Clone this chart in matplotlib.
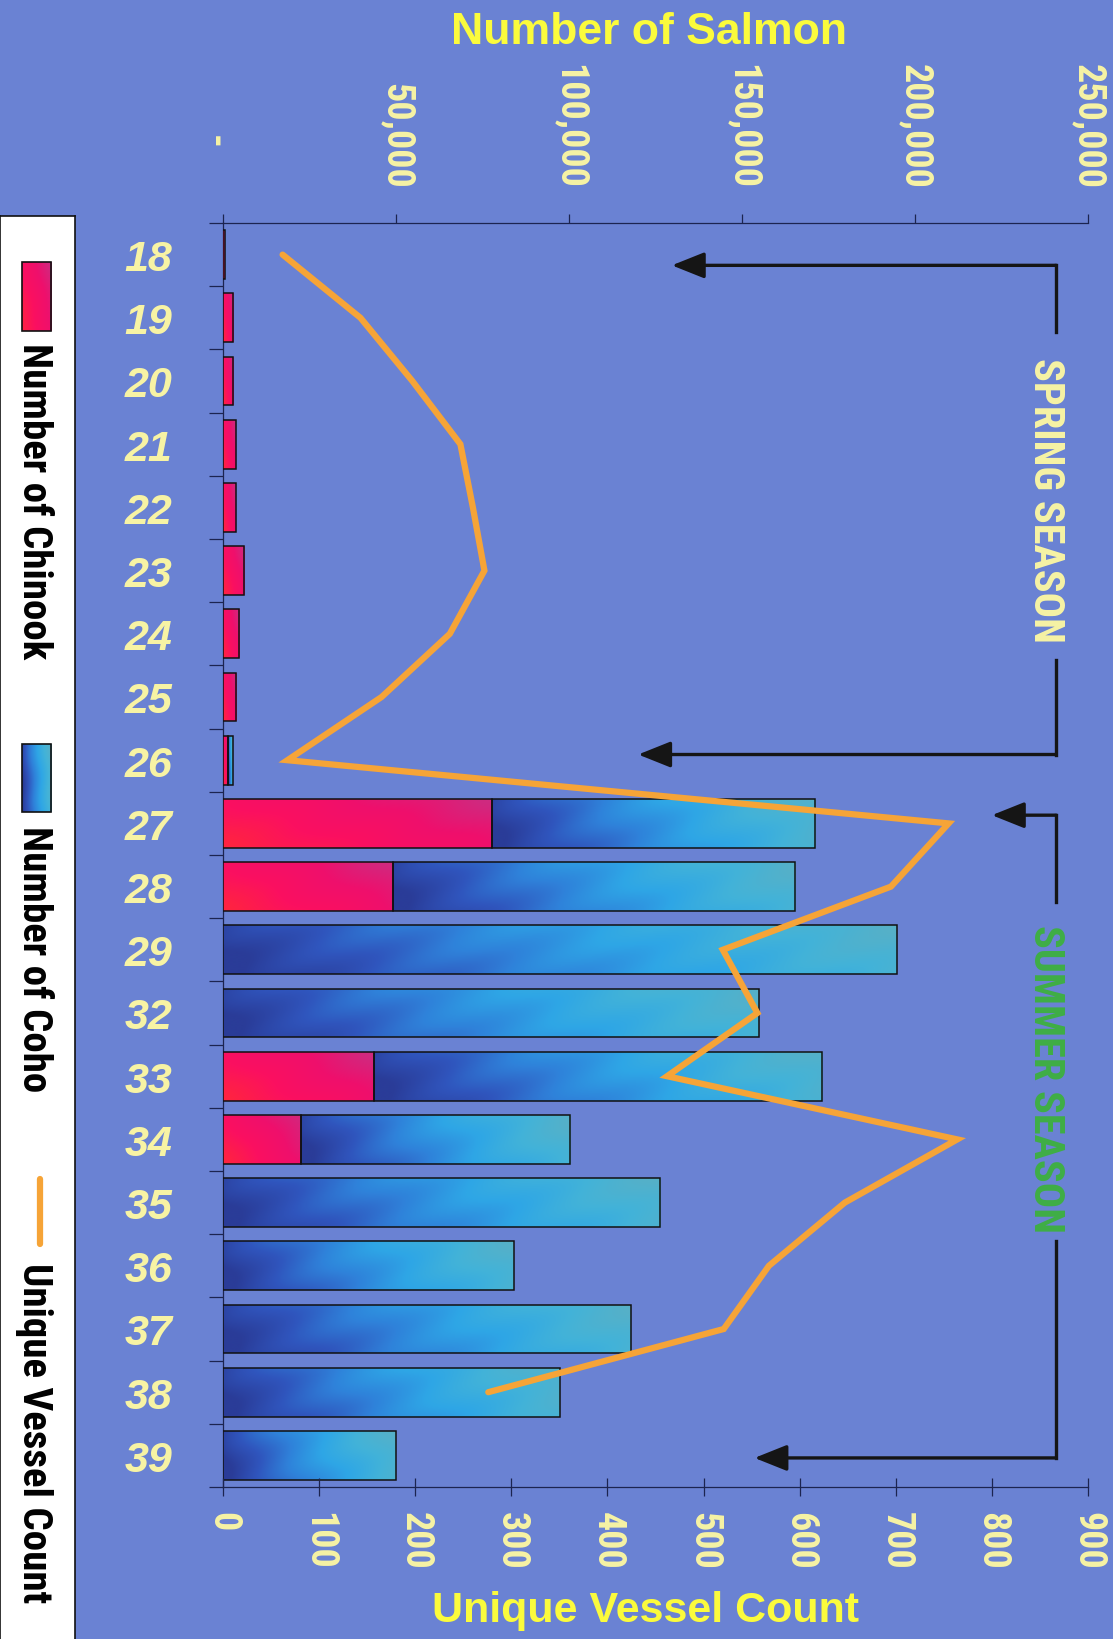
import numpy as np
import matplotlib
matplotlib.use("Agg")
import matplotlib.pyplot as plt
from matplotlib import font_manager
from matplotlib.colors import LinearSegmentedColormap
from matplotlib.patches import Rectangle

# weekly catch and effort
weeks = ["18", "19", "20", "21", "22", "23", "24", "25", "26", "27",
         "28", "29", "32", "33", "34", "35", "36", "37", "38", "39"]
chinook = [500, 2900, 2900, 3700, 3700, 6100, 4700, 3900, 1500, 77700,
           49000, 0, 0, 43500, 22400, 0, 0, 0, 0, 0]
coho = [0, 0, 0, 0, 0, 0, 0, 0, 1300, 93400,
        116400, 194700, 154800, 129700, 78000, 126400, 84000, 117900, 97300, 49900]
vessels = [62, 143, 197, 247, 260, 272, 236, 165, 67, 755,
           695, 520, 556, 462, 764, 647, 568, 521, 276, np.nan]

salmon_ticks = [0, 50000, 100000, 150000, 200000, 250000]
vessel_ticks = [0, 100, 200, 300, 400, 500, 600, 700, 800, 900]

BG = "#6a82d3"
AXIS = "#1c2450"
PALE = "#f7f3a4"
YELLOW = "#fbfb3c"
GREEN = "#3fae45"
ORANGE = "#f6a437"

names = {f.name for f in font_manager.fontManager.ttflist}
COND = next((n for n in ["Roboto Condensed", "Encode Sans Condensed", "Asap Condensed",
                         "Fira Sans Condensed", "Liberation Sans Narrow"] if n in names),
            "Liberation Sans")
SANS = "Liberation Sans"

coho_cmap = LinearSegmentedColormap.from_list(
    "coho", ["#2a3c98", "#3055bd", "#2f82da", "#2ea6e6", "#43b3d8", "#58b0c6"])
chinook_cmap = LinearSegmentedColormap.from_list(
    "chinook", ["#ff2440", "#fb1060", "#ef0f6c", "#cf2a80"])

fig = plt.figure(figsize=(11.13, 16.40), dpi=100, facecolor=BG)
renderer = fig.canvas.get_renderer()


def fit_size(text, family, target_px, base=30):
    """Font size that makes the text run target_px long."""
    t = fig.text(0, 0, text, fontsize=base, fontfamily=family, fontweight="bold")
    w = t.get_window_extent(renderer=renderer).width
    t.remove()
    return base * target_px / w


def shade(axis, patch, cmap, kind):
    """Fill a rectangle with a clipped gradient image."""
    x0, y0 = patch.get_x(), patch.get_y()
    w, h = patch.get_width(), patch.get_height()
    p0 = axis.transData.transform((x0, y0))
    p1 = axis.transData.transform((x0 + w, y0 + h))
    nx = int(abs(p1[0] - p0[0])) + 2
    ny = int(abs(p1[1] - p0[1])) + 2
    xs = np.arange(nx)[None, :]
    ys = np.arange(ny)[:, None]
    fx = xs / (nx - 1)
    fy = ys / (ny - 1)
    if kind == "coho":
        t = 0.9 * fx ** 0.85 + 0.12 * (0.5 - fy) + 0.035 * np.sin(2 * np.pi * (xs + 2.5 * ys) / 130)
    else:
        t = 0.65 * fx + 0.35 * (1 - fy) + 0.03 * np.sin(2 * np.pi * (xs + 2 * ys) / 120)
    t = np.clip(t, 0, 1)
    im = axis.imshow(t, cmap=cmap, vmin=0, vmax=1, extent=(x0, x0 + w, y0 + h, y0),
                     aspect="auto", interpolation="bilinear", zorder=patch.get_zorder() - 0.1)
    im.set_clip_path(patch)


tick_fs = fit_size("250,000", COND, 125)
season_fs = fit_size("SPRING SEASON", COND, 285)
legend_fs = fit_size("Number of Chinook", COND, 317)

ax = fig.add_axes([223 / 1113, 152 / 1640, 865 / 1113, 1264 / 1640])
ax.set_facecolor(BG)
ax2 = ax.twiny()

pos = np.arange(len(weeks))
ax.set_xlim(0, 250000)
ax.set_ylim(19.5, -0.5)
ax2.set_xlim(0, 900)

chin = np.array(chinook, dtype=float)
coh = np.array(coho, dtype=float)
m1 = chin > 0
m2 = coh > 0
bars1 = ax.barh(pos[m1], chin[m1], height=0.77, facecolor="none",
                edgecolor="#111111", linewidth=1.1, zorder=3)
bars2 = ax.barh(pos[m2], coh[m2], left=chin[m2], height=0.77, facecolor="none",
                edgecolor="#111111", linewidth=1.1, zorder=3)
for p in bars1:
    shade(ax, p, chinook_cmap, "chinook")
for p in bars2:
    shade(ax, p, coho_cmap, "coho")
ax.set_xlim(0, 250000)
ax.set_ylim(19.5, -0.5)

ax2.plot(vessels, pos, color=ORANGE, lw=4.5, solid_joinstyle="miter",
         solid_capstyle="round", zorder=4)
ax2.set_xlim(0, 900)

# axes styling
ax.xaxis.tick_top()
ax.set_xticks(salmon_ticks, labels=["" if v == 0 else f"{v:,}" for v in salmon_ticks],
              fontfamily=COND, fontweight="bold")
ax.tick_params(axis="x", which="major", direction="out", length=6.5, width=0.9,
               color=AXIS, pad=18.7, labelsize=tick_fs, labelcolor=PALE, labelrotation=-90)

ax2.xaxis.tick_bottom()
ax2.set_xticks(vessel_ticks, labels=[str(v) for v in vessel_ticks],
               fontfamily=COND, fontweight="bold")
ax2.tick_params(axis="x", which="major", direction="inout", length=13, width=0.9,
                color=AXIS, pad=10.8, labelsize=tick_fs, labelcolor=PALE, labelrotation=-90)

ax.set_yticks(np.arange(-0.5, len(weeks), 1))
ax.set_yticks(pos, labels=weeks, minor=True, fontstyle="italic",
              fontweight="bold", fontfamily=SANS)
ax.tick_params(axis="y", which="major", direction="out", length=10, width=0.9,
               color=AXIS, labelleft=False)
ax.tick_params(axis="y", which="minor", length=0, pad=36.7, labelsize=31, labelcolor=PALE)

for s in ["right", "bottom"]:
    ax.spines[s].set_visible(False)
for s in ["left", "top"]:
    ax.spines[s].set_color(AXIS)
    ax.spines[s].set_linewidth(0.9)
for s in ["left", "top", "right"]:
    ax2.spines[s].set_visible(False)
ax2.spines["bottom"].set_color(AXIS)
ax2.spines["bottom"].set_linewidth(0.9)

fig.text(213 / 1113, 1 - 142 / 1640, "-", rotation=-90, ha="center", va="center",
         fontsize=tick_fs, fontfamily=COND, fontweight="bold", color=PALE)
fig.text(649 / 1113, 1 - 32 / 1640, "Number of Salmon", ha="center", va="center",
         fontsize=32, fontfamily=SANS, fontweight="bold", color=YELLOW)
fig.text(646 / 1113, 1 - 1611 / 1640, "Unique Vessel Count", ha="center", va="center",
         fontsize=31, fontfamily=SANS, fontweight="bold", color=YELLOW)

# season brackets
bx = 867
arrow = dict(arrowstyle="-|>,head_length=1.0,head_width=0.4", mutation_scale=20,
             color="#151515", lw=2.4, shrinkA=0, shrinkB=0)
for y_top, tip_top, y_bot, tip_bot, gap in [(0.17, 467, 7.91, 432, (1.23, 6.41)),
                                            (8.87, 800, 19.04, 553, (10.24, 15.6))]:
    ax2.annotate("", xy=(tip_top, y_top), xytext=(bx, y_top), arrowprops=arrow, zorder=5)
    ax2.annotate("", xy=(tip_bot, y_bot), xytext=(bx, y_bot), arrowprops=arrow, zorder=5)
    ax2.plot([bx, bx], [y_top, gap[0]], color="#151515", lw=2.4, solid_capstyle="projecting", zorder=5)
    ax2.plot([bx, bx], [gap[1], y_bot], color="#151515", lw=2.4, solid_capstyle="projecting", zorder=5)

ax2.text(856, 3.88, "SPRING SEASON", rotation=-90, ha="center", va="center",
         fontsize=season_fs, fontfamily=COND, fontweight="bold", color=PALE)
ax2.text(856, 13.03, "SUMMER SEASON", rotation=-90, ha="center", va="center",
         fontsize=season_fs, fontfamily=COND, fontweight="bold", color=GREEN)

# legend panel
lg = fig.add_axes([0, 0, 75 / 1113, (1640 - 217) / 1640])
lg.set_facecolor("white")
lg.set_xlim(0, 75)
lg.set_ylim(1640, 217)
lg.set_xticks([])
lg.set_yticks([])
lg.spines["bottom"].set_visible(False)
for s in ["left", "top", "right"]:
    lg.spines[s].set_color("#111111")
    lg.spines[s].set_linewidth(1.2)

r1 = lg.add_patch(Rectangle((21.7, 263), 29, 69, facecolor="none", edgecolor="#111111", lw=1.2, zorder=3))
shade(lg, r1, chinook_cmap, "chinook")
r2 = lg.add_patch(Rectangle((21.7, 745), 29, 68, facecolor="none", edgecolor="#111111", lw=1.2, zorder=3))
shade(lg, r2, coho_cmap, "coho")
lg.plot([40, 40], [1180, 1245], color=ORANGE, lw=4.5, solid_capstyle="round")
lg.set_xlim(0, 75)
lg.set_ylim(1640, 217)

for ytxt, label in [(343, "Number of Chinook"), (826, "Number of Coho"), (1263, "Unique Vessel Count")]:
    lg.text(34, ytxt, label, rotation=-90, ha="center", va="top", fontsize=legend_fs,
            fontfamily=COND, fontweight="bold", color="black")

fig.savefig("out.png", dpi=100, facecolor=BG)
